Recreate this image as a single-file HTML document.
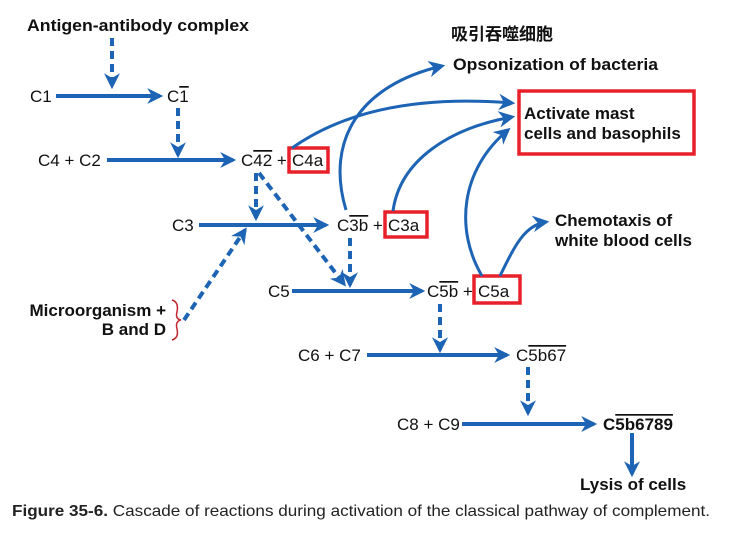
<!DOCTYPE html>
<html><head><meta charset="utf-8"><style>
html,body{margin:0;padding:0;background:#fff;}
svg{display:block;font-family:"Liberation Sans","Noto Sans CJK SC",sans-serif;}
.t{font-size:17px;fill:#111;}
.b{font-size:17px;font-weight:bold;fill:#111;}
.s{stroke:#1e64b4;stroke-width:4;fill:none;}
.d{stroke:#1e64b4;stroke-width:4;fill:none;stroke-dasharray:8,5;}
.c{stroke:#1e64b4;stroke-width:3;fill:none;}
.r{stroke:#e8202a;stroke-width:3.5;fill:#fff;}
</style></head><body>
<svg width="730" height="546" viewBox="0 0 730 546">
<defs>
<marker id="ah" viewBox="0 0 10 10" refX="8" refY="5" markerWidth="4" markerHeight="4" orient="auto" markerUnits="strokeWidth"><path d="M0,0 L10,5 L0,10 L3,5 z" fill="#1e64b4"/></marker>
<marker id="ah2" viewBox="0 0 10 10" refX="8" refY="5" markerWidth="5.5" markerHeight="5.5" orient="auto" markerUnits="strokeWidth"><path d="M0,0 L10,5 L0,10 L3,5 z" fill="#1e64b4"/></marker>
</defs>

<text class="b" x="27" y="31" textLength="222" lengthAdjust="spacingAndGlyphs">Antigen-antibody complex</text>
<line class="d" x1="112" y1="38" x2="112" y2="86" marker-end="url(#ah)"/>

<text class="t" x="30" y="102">C1</text>
<line class="s" x1="56" y1="96" x2="160" y2="96" marker-end="url(#ah)"/>
<text class="t" x="167" y="102">C<tspan text-decoration="overline">1</tspan></text>
<line class="d" x1="178" y1="108" x2="178" y2="155" marker-end="url(#ah)"/>

<text class="t" x="38" y="166">C4 + C2</text>
<line class="s" x1="107" y1="160" x2="233" y2="160" marker-end="url(#ah)"/>
<text class="t" x="241" y="166">C<tspan text-decoration="overline">42</tspan> +</text>
<rect class="r" x="289" y="148" width="39" height="24"/>
<text class="t" x="292" y="166">C4a</text>
<line class="d" x1="256" y1="173" x2="256" y2="218" marker-end="url(#ah)"/>
<line class="d" x1="259" y1="173" x2="344" y2="284" marker-end="url(#ah)"/>

<text class="t" x="172" y="231">C3</text>
<line class="s" x1="199" y1="225" x2="326" y2="225" marker-end="url(#ah)"/>
<text class="t" x="337" y="231">C<tspan text-decoration="overline">3b</tspan> +</text>
<rect class="r" x="385" y="212" width="42" height="25"/>
<text class="t" x="388" y="231">C3a</text>
<line class="d" x1="350" y1="238" x2="350" y2="285" marker-end="url(#ah)"/>

<text class="b" x="166" y="316" text-anchor="end">Microorganism +</text>
<text class="b" x="166" y="335" text-anchor="end">B and D</text>
<path d="M172,300 Q179,302 177,312 Q175,319 181,320 Q175,321 177,329 Q179,338 172,340" stroke="#c0282e" stroke-width="1.5" fill="none"/>
<line class="d" x1="184" y1="320" x2="245" y2="230" marker-end="url(#ah)"/>

<text class="t" x="268" y="297">C5</text>
<line class="s" x1="292" y1="291" x2="422" y2="291" marker-end="url(#ah)"/>
<text class="t" x="427" y="297">C<tspan text-decoration="overline">5b</tspan> +</text>
<rect class="r" x="474" y="276" width="46" height="27"/>
<text class="t" x="478" y="297">C5a</text>
<line class="d" x1="440" y1="304" x2="440" y2="350" marker-end="url(#ah)"/>

<text class="t" x="298" y="361">C6 + C7</text>
<line class="s" x1="367" y1="355" x2="507" y2="355" marker-end="url(#ah)"/>
<text class="t" x="516" y="361">C<tspan text-decoration="overline">5b67</tspan></text>
<line class="d" x1="528" y1="367" x2="528" y2="413" marker-end="url(#ah)"/>

<text class="t" x="397" y="430">C8 + C9</text>
<line class="s" x1="462" y1="424" x2="594" y2="424" marker-end="url(#ah)"/>
<text class="b" x="603" y="430">C<tspan text-decoration="overline">5b6789</tspan></text>
<line class="s" x1="632" y1="433" x2="632" y2="474" marker-end="url(#ah)"/>
<text class="b" x="580" y="490">Lysis of cells</text>

<text class="b" x="451" y="40" font-size="18">吸引吞噬细胞</text>
<text class="b" x="453" y="70" textLength="205" lengthAdjust="spacingAndGlyphs">Opsonization of bacteria</text>
<rect class="r" x="519" y="91" width="175" height="63" fill="none"/>
<text class="b" x="524" y="119">Activate mast</text>
<text class="b" x="524" y="139">cells and basophils</text>
<text class="b" x="555" y="226">Chemotaxis of</text>
<text class="b" x="555" y="246">white blood cells</text>

<path class="c" d="M346,210 C325,140 360,85 442,66" marker-end="url(#ah2)"/>
<path class="c" d="M292,148 C360,100 450,98 512,103" marker-end="url(#ah2)"/>
<path class="c" d="M393,211 C400,160 450,128 512,117" marker-end="url(#ah2)"/>
<path class="c" d="M482,276 C455,230 460,170 508,130" marker-end="url(#ah2)"/>
<path class="c" d="M500,276 C515,245 525,225 546,222" marker-end="url(#ah2)"/>

<text x="12" y="516" font-size="16" fill="#222" textLength="698" lengthAdjust="spacingAndGlyphs"><tspan font-weight="bold">Figure 35-6.</tspan> Cascade of reactions during activation of the classical pathway of complement.</text>
</svg>
</body></html>
